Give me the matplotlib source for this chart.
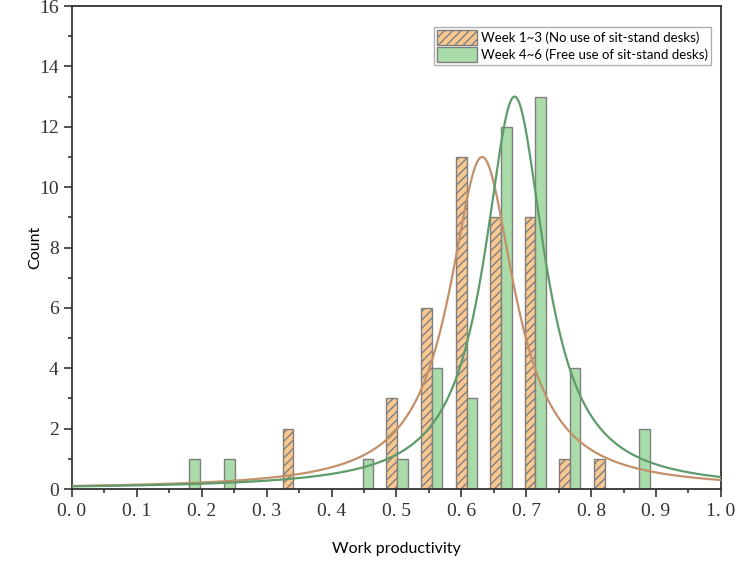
import numpy as np
import matplotlib
matplotlib.use('Agg')
import matplotlib.pyplot as plt
from matplotlib.ticker import MultipleLocator

# bin centres (work productivity) and counts per group
bin_centers = [0.181, 0.234, 0.288, 0.341, 0.394, 0.448, 0.501,
               0.554, 0.608, 0.661, 0.714, 0.767, 0.821, 0.874]
week1_3 = [0, 0, 0, 2, 0, 0, 3, 6, 11, 9, 9, 1, 1, 0]
week4_6 = [1, 1, 0, 0, 0, 1, 1, 4, 3, 12, 13, 4, 0, 2]

# Lorentz fit parameters: (centre, fwhm, peak height)
fit1_3 = (0.632, 0.123, 11.0)
fit4_6 = (0.682, 0.113, 13.0)

label1 = 'Week 1~3 (No use of sit-stand desks)'
label2 = 'Week 4~6 (Free use of sit-stand desks)'

xtick_vals = [0.0, 0.1, 0.2, 0.3, 0.4, 0.5, 0.6, 0.7, 0.8, 0.9, 1.0]
xtick_labels = ['0. 0', '0. 1', '0. 2', '0. 3', '0. 4', '0. 5',
                '0. 6', '0. 7', '0. 8', '0. 9', '1. 0']


def lorentz(x, xc, w, h):
    return h * w ** 2 / (4 * (x - xc) ** 2 + w ** 2)


plt.rcParams['hatch.color'] = '#c8925a'
plt.rcParams['hatch.linewidth'] = 1.0

fig = plt.figure(figsize=(7.44, 5.72), dpi=100)
ax = fig.add_axes([0.0968, 0.145, 0.8722, 0.8445])

bw = 0.0165
x = np.array(bin_centers)
ax.bar(x - bw / 2, week1_3, width=bw, color='#f9c891', edgecolor='#7f7f7f',
       linewidth=1.0, hatch='////', label=label1, zorder=2)
ax.bar(x + bw / 2, week4_6, width=bw, color='#a9dca9', edgecolor='#7f7f7f',
       linewidth=1.0, label=label2, zorder=2)

xs = np.linspace(0, 1, 600)
ax.plot(xs, lorentz(xs, *fit1_3), color='#c4906a', lw=1.6, zorder=3)
ax.plot(xs, lorentz(xs, *fit4_6), color='#5e9c6c', lw=1.6, zorder=3)

ax.set_xlim(0, 1.0)
ax.set_ylim(0, 16)
ax.set_xticks(xtick_vals)
ax.set_xticklabels(xtick_labels, family='Liberation Serif', fontsize=14, color='#333333')
ax.xaxis.set_minor_locator(MultipleLocator(0.05))
ax.yaxis.set_major_locator(MultipleLocator(2))
ax.yaxis.set_minor_locator(MultipleLocator(1))
for lab in ax.get_yticklabels():
    lab.set_family('Liberation Serif')
    lab.set_fontsize(14)
    lab.set_color('#333333')

ax.tick_params(which='both', direction='out', color='#333333', width=1.2)
ax.tick_params(which='major', length=6)
ax.tick_params(which='minor', length=3)
ax.tick_params(axis='x', pad=4)
for s in ax.spines.values():
    s.set_color('#333333')
    s.set_linewidth(1.3)

ax.set_xlabel('Work productivity', fontsize=11.5, family='Lato', labelpad=16)
ax.set_ylabel('Count', fontsize=11.5, family='Lato', labelpad=-2)

leg = ax.legend(loc='upper right', bbox_to_anchor=(0.985, 0.957),
                prop={'family': 'Lato', 'size': 9.5},
                frameon=True, fancybox=False, borderpad=0.25, handlelength=3.0,
                handleheight=1.4, handletextpad=0.3, labelspacing=0.12,
                borderaxespad=0.0)
leg.get_frame().set_edgecolor('#999999')
leg.get_frame().set_linewidth(1.0)

fig.savefig('out.png', dpi=100)
